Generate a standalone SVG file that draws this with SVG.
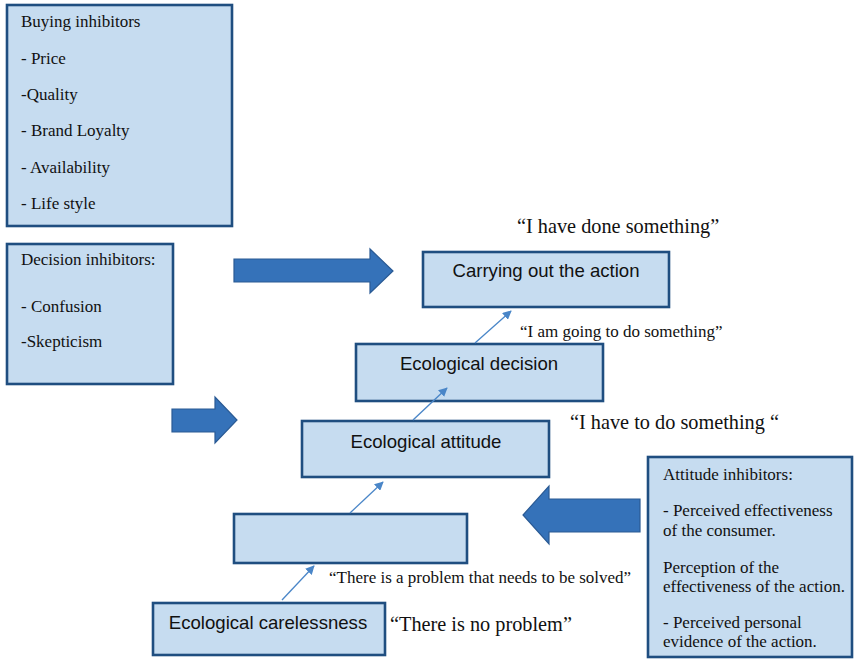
<svg xmlns="http://www.w3.org/2000/svg" width="855" height="661" viewBox="0 0 855 661">
<style>
.box{fill:#c6dcf0;stroke:#1f4e80;stroke-width:2.6}
.big{fill:#3572b9;stroke:#2a5a94;stroke-width:1.2}
.conn{stroke:#4a86c8;stroke-width:1.3;fill:none;marker-end:url(#ah)}
.s{font-family:"Liberation Serif","Times New Roman",serif;font-size:17px;fill:#111}
.q{font-family:"Liberation Serif","Times New Roman",serif;font-size:20.3px;fill:#111}
.n{font-family:"Liberation Sans",Arial,sans-serif;font-size:18.6px;fill:#111;text-anchor:middle}
</style>
<defs>
<marker id="ah" viewBox="0 0 10 10" refX="9" refY="5" markerWidth="9" markerHeight="9" markerUnits="userSpaceOnUse" orient="auto">
<path d="M0,0 L10,5 L0,10 z" fill="#4a86c8"/>
</marker>
</defs>
<rect width="855" height="661" fill="#fff"/>

<g id="buying-inhibitors">
<rect class="box" x="7" y="5" width="225" height="221"/>
<text class="s" x="21" y="27">Buying inhibitors</text>
<text class="s" x="21" y="64">- Price</text>
<text class="s" x="21" y="100">-Quality</text>
<text class="s" x="21" y="136">- Brand Loyalty</text>
<text class="s" x="21" y="173">- Availability</text>
<text class="s" x="21" y="209">- Life style</text>
</g>

<g id="decision-inhibitors">
<rect class="box" x="7" y="244" width="166" height="140"/>
<text class="s" x="21" y="265">Decision inhibitors:</text>
<text class="s" x="21" y="312">- Confusion</text>
<text class="s" x="21" y="347">-Skepticism</text>
</g>

<g id="carrying-out">
<rect class="box" x="423" y="252" width="246" height="55"/>
<text class="n" x="546" y="277">Carrying out the action</text>
</g>

<g id="ecological-decision">
<rect class="box" x="356" y="344" width="247" height="57"/>
<text class="n" x="479" y="370">Ecological decision</text>
</g>

<g id="ecological-attitude">
<rect class="box" x="302" y="421" width="247" height="56"/>
<text class="n" x="426" y="448">Ecological attitude</text>
</g>

<g id="empty-stage">
<rect class="box" x="234" y="514" width="233" height="49"/>
</g>

<g id="ecological-carelessness">
<rect class="box" x="153" y="603" width="232" height="52"/>
<text class="n" x="268" y="629">Ecological carelessness</text>
</g>

<g id="attitude-inhibitors">
<rect class="box" x="648" y="457" width="204" height="200"/>
<text class="s" x="663" y="480">Attitude inhibitors:</text>
<text class="s" x="663" y="516">- Perceived effectiveness</text>
<text class="s" x="663" y="536">of the consumer.</text>
<text class="s" x="663" y="573">Perception of the</text>
<text class="s" x="663" y="592">effectiveness of the action.</text>
<text class="s" x="663" y="628">- Perceived personal</text>
<text class="s" x="663" y="647">evidence of the action.</text>
</g>

<g id="quotes">
<text class="q" x="517" y="233">“I have done something”</text>
<text class="s" x="520" y="337">“I am going to do something”</text>
<text class="q" x="570" y="429">“I have to do something “</text>
<text class="s" x="329" y="583">“There is a problem that needs to be solved”</text>
<text class="q" x="390" y="631">“There is no problem”</text>
</g>

<g id="connectors">
<polygon class="big" points="234,259 370,259 370,249 393,271 370,293 370,282 234,282"/>
<polygon class="big" points="172,409 215,409 215,397 237,420 215,443 215,432 172,432"/>
<polygon class="big" points="640,499 549,499 549,486 523,515 549,544 549,532 640,532"/>
<line class="conn" x1="282" y1="600" x2="314" y2="566"/>
<line class="conn" x1="350" y1="513" x2="383" y2="482"/>
<line class="conn" x1="413" y1="420" x2="447" y2="388"/>
<line class="conn" x1="475" y1="343" x2="511" y2="311"/>
</g>
</svg>
